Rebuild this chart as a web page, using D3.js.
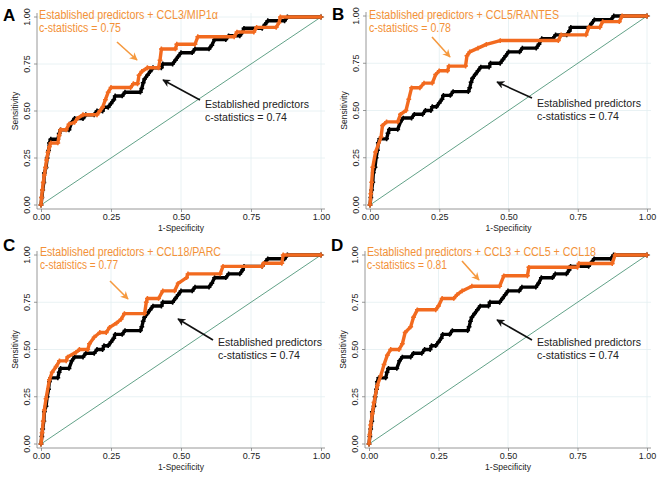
<!DOCTYPE html>
<html><head><meta charset="utf-8">
<script src="https://cdn.jsdelivr.net/npm/d3@7"></script>
<style>body{margin:0;background:#fff}svg{display:block;font-family:"Liberation Sans",Arial,sans-serif}</style>
</head><body>
<svg id="c" width="664" height="484"></svg>
<script>
// ---- data ----
const ticks = [0, 0.25, 0.5, 0.75, 1];
const tickLabels = ["0.00", "0.25", "0.50", "0.75", "1.00"];
const panelLetters = ["A", "B", "C", "D"];
const orangeTitles = [
  "Established predictors + CCL3/MIP1α",
  "Established predictors + CCL5/RANTES",
  "Established predictors + CCL18/PARC",
  "Established predictors + CCL3 + CCL5 + CCL18"
];
const orangeStats = ["c-statistics = 0.75", "c-statistics = 0.78", "c-statistics = 0.77", "c-statistics = 0.81"];
const blackTitle = "Established predictors";
const blackStat = "c-statistics = 0.74";

// ROC vertices [1-specificity, sensitivity]
const established = [[0,0],[0.003,0.04],[0.006,0.08],[0.01,0.12],[0.012,0.17],[0.018,0.2],[0.022,0.25],[0.027,0.29],[0.03,0.33],[0.035,0.35],[0.06,0.35],[0.065,0.38],[0.07,0.40],[0.1,0.40],[0.11,0.44],[0.12,0.46],[0.15,0.46],[0.16,0.48],[0.19,0.48],[0.2,0.5],[0.22,0.5],[0.225,0.52],[0.24,0.52],[0.25,0.54],[0.26,0.56],[0.265,0.58],[0.29,0.58],[0.3,0.6],[0.355,0.6],[0.36,0.62],[0.365,0.65],[0.37,0.67],[0.38,0.69],[0.39,0.71],[0.4,0.73],[0.43,0.73],[0.435,0.75],[0.47,0.75],[0.48,0.77],[0.49,0.79],[0.5,0.81],[0.54,0.81],[0.55,0.83],[0.6,0.83],[0.61,0.85],[0.62,0.88],[0.66,0.88],[0.67,0.9],[0.71,0.9],[0.72,0.92],[0.725,0.94],[0.79,0.94],[0.8,0.96],[0.81,0.98],[0.87,0.98],[0.88,1],[1,1]];
const withCCL3 = [[0,0],[0.002,0.04],[0.005,0.08],[0.008,0.12],[0.012,0.16],[0.016,0.2],[0.02,0.24],[0.025,0.28],[0.03,0.31],[0.035,0.33],[0.06,0.33],[0.065,0.37],[0.07,0.4],[0.09,0.4],[0.1,0.43],[0.12,0.44],[0.13,0.46],[0.15,0.48],[0.2,0.48],[0.21,0.5],[0.22,0.52],[0.23,0.56],[0.24,0.6],[0.25,0.625],[0.32,0.625],[0.33,0.645],[0.345,0.645],[0.35,0.69],[0.36,0.71],[0.38,0.73],[0.42,0.73],[0.425,0.77],[0.43,0.83],[0.48,0.83],[0.485,0.855],[0.55,0.855],[0.56,0.895],[0.69,0.895],[0.7,0.92],[0.76,0.92],[0.77,0.945],[0.84,0.945],[0.85,0.97],[0.855,1],[1,1]];
const withCCL5 = [[0,0],[0.003,0.06],[0.006,0.12],[0.01,0.2],[0.02,0.28],[0.04,0.36],[0.045,0.42],[0.06,0.44],[0.1,0.44],[0.11,0.48],[0.13,0.5],[0.14,0.56],[0.15,0.62],[0.18,0.62],[0.195,0.645],[0.225,0.645],[0.237,0.69],[0.25,0.71],[0.28,0.71],[0.285,0.735],[0.345,0.735],[0.35,0.79],[0.36,0.81],[0.39,0.83],[0.42,0.85],[0.47,0.87],[0.68,0.87],[0.69,0.9],[0.78,0.9],[0.79,0.94],[0.83,0.94],[0.84,0.97],[0.9,0.97],[0.91,1],[1,1]];
const withCCL18 = [[0,0],[0.004,0.06],[0.008,0.12],[0.012,0.18],[0.018,0.24],[0.03,0.34],[0.04,0.38],[0.054,0.41],[0.066,0.44],[0.09,0.44],[0.095,0.46],[0.125,0.485],[0.137,0.5],[0.167,0.5],[0.173,0.53],[0.19,0.565],[0.21,0.59],[0.233,0.59],[0.245,0.617],[0.27,0.64],[0.286,0.66],[0.298,0.69],[0.37,0.69],[0.376,0.75],[0.38,0.77],[0.42,0.77],[0.435,0.81],[0.477,0.81],[0.49,0.85],[0.52,0.88],[0.525,0.9],[0.64,0.9],[0.65,0.94],[0.79,0.94],[0.795,0.956],[0.86,0.956],[0.865,1],[1,1]];
const withAll = [[0,0],[0.003,0.05],[0.006,0.1],[0.012,0.16],[0.018,0.22],[0.03,0.31],[0.042,0.36],[0.054,0.42],[0.066,0.47],[0.078,0.5],[0.108,0.5],[0.12,0.53],[0.13,0.59],[0.15,0.62],[0.16,0.67],[0.174,0.71],[0.24,0.71],[0.25,0.73],[0.263,0.77],[0.305,0.77],[0.317,0.79],[0.335,0.81],[0.37,0.835],[0.47,0.835],[0.485,0.89],[0.57,0.89],[0.575,0.935],[0.75,0.935],[0.755,0.955],[0.875,0.955],[0.885,1],[1,1]];
const orangeSeries = [withCCL3, withCCL5, withCCL18, withAll];

// ---- layout ----
const panels = [
  {x0:41, x1:321, y0:205, y1:17},
  {x0:370, x1:647, y0:205, y1:16},
  {x0:41, x1:321, y0:444, y1:255},
  {x0:369, x1:647, y0:444, y1:255}
];
const annot = [
  {ox:39, oy:19, ow:[179, 82], oa:[[117,42],[137,60]], ba:[[200,100],[163,80]], bt:[205,108]},
  {ox:369, oy:19, ow:[190, 82], oa:[[432,37],[450,57]], ba:[[532,98],[497,82]], bt:[537,107]},
  {ox:40, oy:256, ow:[181, 78], oa:[[110,281],[128,299]], ba:[[213,340],[178,319]], bt:[218,346]},
  {ox:367, oy:256, ow:[229, 80], oa:[[462,261],[479,280]], ba:[[532,340],[497,320]], bt:[537,346]}
];
const ORANGE = "#f26a1f", ORANGE_TXT = "#f39137", GRID = "#e3eff1", AXIS = "#7d7d7d", DIAG = "#3a8a6a";

const svg = d3.select("#c");
const defs = svg.append("defs");
[["ah-o", "#f5993f"], ["ah-b", "#111"]].forEach(([id, col]) => {
  defs.append("marker").attr("id", id).attr("viewBox", "0 0 10 10").attr("refX", 9).attr("refY", 5)
    .attr("markerWidth", 5).attr("markerHeight", 5).attr("orient", "auto")
    .append("path").attr("d", "M0,0 L10,5 L0,10 L3,5 z").attr("fill", col);
});

panels.forEach((p, i) => {
  const g = svg.append("g");
  const x = d3.scaleLinear().domain([0, 1]).range([p.x0, p.x1]);
  const y = d3.scaleLinear().domain([0, 1]).range([p.y0, p.y1]);
  const left = p.x0 - 4, bottom = p.y0 + 4, right = p.x1 + 4, top = p.y1 - 4;

  // grid
  g.selectAll(".gy").data(ticks.slice(1)).join("line")
    .attr("x1", left).attr("x2", right).attr("y1", d => y(d)).attr("y2", d => y(d))
    .attr("stroke", GRID).attr("stroke-width", 0.8);
  g.selectAll(".gx").data(ticks.slice(1)).join("line")
    .attr("y1", bottom).attr("y2", top).attr("x1", d => x(d)).attr("x2", d => x(d))
    .attr("stroke", GRID).attr("stroke-width", 0.8);

  // axes
  const ay = d3.axisLeft(y).tickValues(ticks).tickFormat((d, k) => tickLabels[k]).tickSize(3).tickPadding(2);
  const ax = d3.axisBottom(x).tickValues(ticks).tickFormat((d, k) => tickLabels[k]).tickSize(3).tickPadding(2);
  const gy = g.append("g").attr("transform", `translate(${left},0)`).call(ay);
  gy.select(".domain").attr("d", `M0,${bottom}V${top}`);
  gy.selectAll(".tick").attr("transform", null);
  gy.selectAll(".tick line").attr("y1", d => y(d)).attr("y2", d => y(d));
  gy.selectAll("text").attr("x", -7).attr("y", d => y(d)).attr("dy", 0).attr("text-anchor", "middle")
    .attr("transform", d => `rotate(-90,-7,${y(d)})`);
  const gx = g.append("g").attr("transform", `translate(0,${bottom})`).call(ax);
  gx.select(".domain").attr("d", `M${left},0H${right}`);
  [gx, gy].forEach(a => {
    a.selectAll(".domain").attr("stroke", AXIS).attr("stroke-width", 0.8);
    a.selectAll(".tick line").attr("stroke", AXIS).attr("stroke-width", 0.8);
    a.selectAll("text").attr("font-size", 9).attr("fill", "#222").attr("font-family", "Liberation Sans, Arial");
  });

  // axis titles
  g.append("text").attr("x", (p.x0 + p.x1) / 2).attr("y", bottom + 22).attr("text-anchor", "middle")
    .attr("font-size", 8.5).attr("fill", "#222").text("1-Specificity");
  const sy = (p.y0 + p.y1) / 2;
  g.append("text").attr("transform", `translate(${left - 19},${sy}) rotate(-90)`).attr("text-anchor", "middle")
    .attr("font-size", 8.5).attr("fill", "#222").text("Sensitivity");

  // diagonal
  g.append("line").attr("x1", x(0)).attr("y1", y(0)).attr("x2", x(1)).attr("y2", y(1))
    .attr("stroke", DIAG).attr("stroke-width", 0.8);

  // curves
  const line = d3.line().x(d => x(d[0])).y(d => y(d[1]));
  const draw = (data, col) => {
    g.append("path").datum(data).attr("d", line).attr("fill", "none").attr("stroke", col)
      .attr("stroke-width", 3.4).attr("stroke-linejoin", "round");
    g.selectAll(null).data(data).join("path")
      .attr("d", d => `M${x(d[0]) - 2.4},${y(d[1])}h4.8M${x(d[0])},${y(d[1]) - 2.4}v4.8`)
      .attr("stroke", col).attr("stroke-width", 1.5);
  };
  draw(established, "#000");
  draw(orangeSeries[i], ORANGE);

  // annotations
  const a = annot[i];
  g.append("text").attr("x", a.ox).attr("y", a.oy).attr("font-size", 12).attr("fill", ORANGE_TXT)
    .attr("textLength", a.ow[0]).attr("lengthAdjust", "spacingAndGlyphs").text(orangeTitles[i]);
  g.append("text").attr("x", a.ox).attr("y", a.oy + 13).attr("font-size", 12).attr("fill", ORANGE_TXT)
    .attr("textLength", a.ow[1]).attr("lengthAdjust", "spacingAndGlyphs").text(orangeStats[i]);
  g.append("line").attr("x1", a.oa[0][0]).attr("y1", a.oa[0][1]).attr("x2", a.oa[1][0]).attr("y2", a.oa[1][1])
    .attr("stroke", "#f5993f").attr("stroke-width", 1.6).attr("marker-end", "url(#ah-o)");
  g.append("line").attr("x1", a.ba[0][0]).attr("y1", a.ba[0][1]).attr("x2", a.ba[1][0]).attr("y2", a.ba[1][1])
    .attr("stroke", "#111").attr("stroke-width", 1.6).attr("marker-end", "url(#ah-b)");
  g.append("text").attr("x", a.bt[0]).attr("y", a.bt[1]).attr("font-size", 11.5).attr("fill", "#222")
    .attr("textLength", 104).attr("lengthAdjust", "spacingAndGlyphs").text(blackTitle);
  g.append("text").attr("x", a.bt[0]).attr("y", a.bt[1] + 12.5).attr("font-size", 11.5).attr("fill", "#222")
    .attr("textLength", 82).attr("lengthAdjust", "spacingAndGlyphs").text(blackStat);

  // panel letter
  g.append("text").attr("x", p.x0 - 38).attr("y", p.y1 + (i < 2 ? 4 : -4)).attr("font-size", 17).attr("font-weight", "bold")
    .attr("fill", "#000").text(panelLetters[i]);
});
</script>
</body></html>
